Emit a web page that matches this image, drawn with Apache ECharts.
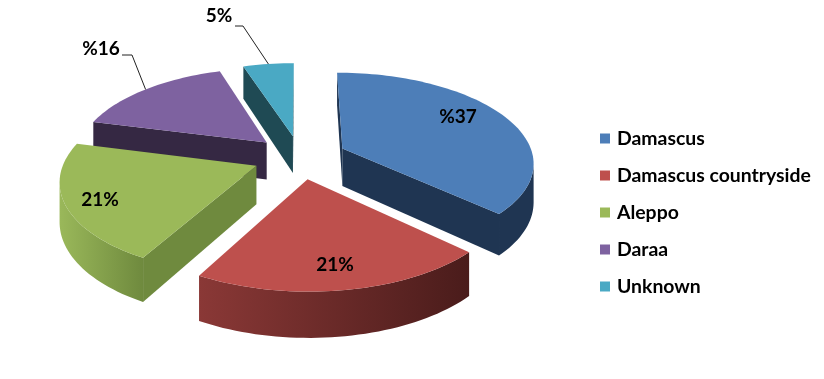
<!DOCTYPE html>
<html>
<head>
<meta charset="utf-8">
<style>html,body{margin:0;background:#fff}#chart{width:824px;height:379px}</style>
<script src="https://cdn.jsdelivr.net/npm/echarts@6/dist/echarts.min.js"></script>
</head>
<body>
<div id="chart"></div>
<script>
var categories = ['Damascus', 'Damascus countryside', 'Aleppo', 'Daraa', 'Unknown'];
var values = [37, 21, 21, 16, 5];
var labels = ['%37', '21%', '21%', '%16', '5%'];

var topColors = ['#4d7eb8', '#be504d', '#9bb959', '#7e62a0', '#4aa9c4'];
var flatWall = ['#1f3552', '#4d1e1d', '#6f8a3e', '#352843', '#1f4a54'];
var arcWall = [['#1f3552', '#1f3552'], ['#8a3836', '#4a1c1b'], ['#9ab85a', '#6f8a3e'], ['#352843', '#352843'], ['#1f4a54', '#1f4a54']];
var labelPos = [[458, 117], [335, 265], [100, 200], [101, 49], [219, 16]];
var leaderElbow = [null, null, null, [[122, 55], [132, 55]], [[235, 26], [243, 26]]];
var drawOrder = [4, 3, 0, 2, 1];

var cx = 300, cy = 157, rx = 191, ry = 89, persp = 0.144, explode = 0.245, depth = 38;
var total = values.reduce(function (a, b) { return a + b; }, 0);

function project(u, v, d) {
    var s = 1 / (1 + persp * v);
    return [cx + rx * u * s, cy - ry * v * s + d * s];
}

function sliceElements(i) {
    var before = values.slice(0, i).reduce(function (a, b) { return a + b; }, 0);
    var a0 = before / total * Math.PI * 2;
    var a1 = (before + values[i]) / total * Math.PI * 2;
    var mid = (a0 + a1) / 2;
    var ou = Math.sin(mid) * explode, ov = Math.cos(mid) * explode;

    var rim = [];
    var steps = Math.max(4, Math.round((a1 - a0) / 0.03));
    for (var k = 0; k <= steps; k++) {
        var a = a0 + (a1 - a0) * k / steps;
        rim.push([ou + Math.sin(a), ov + Math.cos(a)]);
    }
    var apex = [ou, ov];

    function wall(pts, fill) {
        var top = pts.map(function (p) { return project(p[0], p[1], 0); });
        var bottom = pts.map(function (p) { return project(p[0], p[1], depth); }).reverse();
        return { type: 'polygon', shape: { points: top.concat(bottom) }, style: { fill: fill } };
    }
    function facesViewer(p, q) {
        return project(q[0], q[1], 0)[0] < project(p[0], p[1], 0)[0];
    }

    var children = [];
    // walls first, then the top face over them
    var first = rim[0], last = rim[rim.length - 1];
    if (facesViewer(apex, first)) children.push(wall([apex, first], flatWall[i]));
    if (facesViewer(last, apex)) children.push(wall([last, apex], flatWall[i]));

    var run = [];
    for (var j = 0; j < rim.length - 1; j++) {
        if (facesViewer(rim[j], rim[j + 1])) {
            if (!run.length) run.push(rim[j]);
            run.push(rim[j + 1]);
        }
    }
    if (run.length > 1) {
        children.push(wall(run, new echarts.graphic.LinearGradient(0, 0, 1, 0, [
            { offset: 0, color: arcWall[i][0] },
            { offset: 1, color: arcWall[i][1] }
        ])));
    }

    var face = [apex].concat(rim).map(function (p) { return project(p[0], p[1], 0); });
    children.push({ type: 'polygon', shape: { points: face }, style: { fill: topColors[i] } });

    if (leaderElbow[i]) {
        var tip = project(ou + Math.sin(mid), ov + Math.cos(mid), 0);
        children.push({
            type: 'polyline',
            shape: { points: leaderElbow[i].concat([tip]) },
            style: { stroke: '#222', lineWidth: 1, fill: null }
        });
    }
    children.push({
        type: 'text',
        style: {
            text: labels[i], x: labelPos[i][0], y: labelPos[i][1],
            fill: '#000', font: 'bold 19px Lato', align: 'center', verticalAlign: 'middle'
        }
    });
    return { type: 'group', children: children };
}

var series = drawOrder.map(function (i) {
    return {
        type: 'custom',
        name: categories[i],
        coordinateSystem: 'none',
        silent: true,
        itemStyle: { color: topColors[i] },
        data: [values[i]],
        renderItem: function () { return sliceElements(i); }
    };
});

var chart = echarts.init(document.getElementById('chart'), null, { renderer: 'canvas' });
chart.setOption({
    animation: false,
    backgroundColor: '#fff',
    legend: {
        data: categories,
        orient: 'vertical',
        left: 600,
        top: 129,
        padding: 0,
        itemGap: 18,
        itemWidth: 10,
        itemHeight: 10,
        icon: 'rect',
        selectedMode: false,
        textStyle: { color: '#000', fontFamily: 'Lato', fontWeight: 'bold', fontSize: 19.4, padding: [0, 0, 0, 2] }
    },
    series: series
});
</script>
</body>
</html>
